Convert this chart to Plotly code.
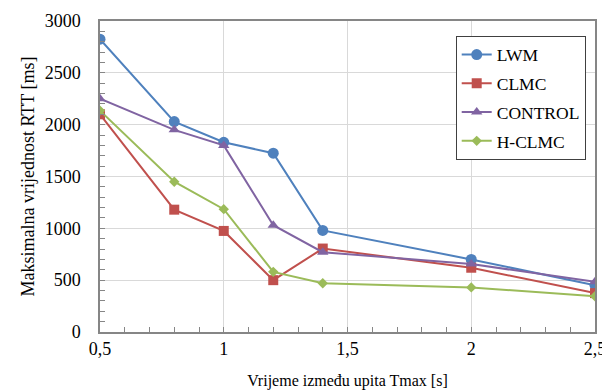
import plotly.graph_objects as go

x_vals = [0.5, 0.8, 1.0, 1.2, 1.4, 2.0, 2.5]
lwm = [2825, 2030, 1830, 1725, 980, 700, 450]
clmc = [2100, 1180, 975, 500, 805, 620, 375]
control = [2250, 1950, 1800, 1030, 770, 655, 485]
hclmc = [2135, 1450, 1185, 580, 470, 430, 345]

series_names = ["LWM", "CLMC", "CONTROL", "H-CLMC"]
series_data = [lwm, clmc, control, hclmc]
colors = ["#4F81BD", "#C0504D", "#8064A2", "#9BBB59"]
symbols = ["circle", "square", "triangle-up", "diamond"]
sizes = [11, 10, 10, 8]

x_tickvals = [0.5, 1.0, 1.5, 2.0, 2.5]
x_ticktext = ["0,5", "1", "1,5", "2", "2,5"]

FONT = "Liberation Serif"

fig = go.Figure()
for i, (name, data) in enumerate(zip(series_names, series_data)):
    fig.add_trace(go.Scatter(
        x=x_vals, y=data, name=name, mode="lines+markers",
        line=dict(color=colors[i], width=2),
        marker=dict(symbol=symbols[i], size=sizes[i], color=colors[i]),
        legendgroup=name,
    ))

axis_color = "#868686"
fig.update_layout(
    width=610, height=392,
    margin=dict(l=92, r=23, t=13, b=68),
    paper_bgcolor="white", plot_bgcolor="white",
    font=dict(family=FONT, size=18, color="black"),
    showlegend=True,
    legend=dict(
        x=0.7186, y=0.9527, xanchor="left", yanchor="top",
        bgcolor="white", bordercolor="#404040", borderwidth=1,
        font=dict(family=FONT, size=17.5, color="black"),
        tracegroupgap=3, traceorder="grouped",
    ),
    xaxis=dict(
        range=[0.5, 2.5], tickvals=x_tickvals, ticktext=x_ticktext,
        automargin=False,
        showgrid=True, gridcolor="#D9D9D9", gridwidth=1,
        showline=True, linecolor=axis_color, linewidth=1.5, mirror=True,
        ticks="inside", ticklen=5, tickcolor=axis_color,
        minor=dict(dtick=0.1, ticks="inside", ticklen=5, tickcolor=axis_color, showgrid=False),
        zeroline=False, ticklabelstandoff=0,
        title=dict(text="Vrijeme između upita Tmax [s]", standoff=16, font=dict(family=FONT, size=16)),
        tickfont=dict(family=FONT, size=18),
    ),
    yaxis=dict(
        range=[0, 3000], dtick=500,
        automargin=False,
        showgrid=True, gridcolor="#D9D9D9", gridwidth=1,
        showline=True, linecolor=axis_color, linewidth=1.5, mirror=True,
        ticks="inside", ticklen=5, tickcolor=axis_color,
        minor=dict(dtick=100, ticks="inside", ticklen=5, tickcolor=axis_color, showgrid=False),
        zeroline=False, ticklabelstandoff=14,
        title=dict(text="Maksimalna vrijednost RTT [ms]", standoff=5, font=dict(family=FONT, size=18)),
        tickfont=dict(family=FONT, size=18),
    ),
)

fig.write_html("out.html")
